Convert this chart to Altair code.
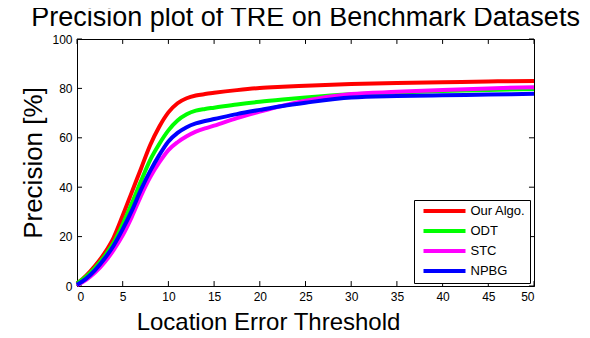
import altair as alt
import pandas as pd

thresholds = [0, 1, 2, 3, 4, 5, 6, 7, 8, 9, 10, 11, 12, 13, 14, 15, 17.5, 20, 22.5, 25, 30, 35, 40, 45, 50]
our_algo = [1.0, 4.2, 8.3, 13.2, 19.5, 28.5, 38.0, 47.5, 57.0, 64.5, 70.3, 74.0, 76.0, 77.1, 77.7, 78.2, 79.3, 80.2, 80.7, 81.1, 81.8, 82.2, 82.5, 82.8, 83.0]
odt = [1.0, 3.8, 7.5, 12.0, 17.5, 25.0, 33.5, 42.5, 51.0, 57.5, 63.0, 67.0, 69.5, 71.0, 71.7, 72.2, 73.5, 74.6, 75.5, 76.3, 77.6, 78.3, 78.9, 79.4, 79.8]
stc = [0.3, 2.5, 5.5, 9.5, 14.5, 20.5, 28.0, 36.5, 44.0, 50.0, 55.0, 58.2, 60.6, 62.5, 63.8, 64.9, 68.0, 70.6, 73.0, 75.0, 77.7, 78.6, 79.4, 80.0, 80.5]
npbg = [0.5, 3.0, 6.5, 11.0, 16.3, 23.0, 30.5, 39.0, 46.5, 53.0, 58.5, 62.0, 64.3, 65.8, 66.8, 67.6, 69.6, 71.3, 72.9, 74.2, 76.3, 76.9, 77.2, 77.5, 77.8]

series_names = ["Our Algo.", "ODT", "STC", "NPBG"]
series_colors = ["#FF0000", "#00FF00", "#FF00FF", "#0000FF"]
x_ticks = [0, 5, 10, 15, 20, 25, 30, 35, 40, 45, 50]
y_ticks = [0, 20, 40, 60, 80, 100]

FONT = "Liberation Sans"

rows = []
for name, vals in zip(series_names, [our_algo, odt, stc, npbg]):
    for t, v in zip(thresholds, vals):
        rows.append({"threshold": t, "precision": v, "series": name})
df = pd.DataFrame(rows)

# inside tick marks (MATLAB style box ticks)
xlen = 2.0   # tick length in y data units
ylen = 0.55  # tick length in x data units
tick_rows = []
for t in x_ticks:
    tick_rows.append({"x": t, "x2": t, "y": 0, "y2": xlen})
    tick_rows.append({"x": t, "x2": t, "y": 100 - xlen, "y2": 100})
for t in y_ticks:
    tick_rows.append({"x": 0, "x2": ylen, "y": t, "y2": t})
    tick_rows.append({"x": 50 - ylen, "x2": 50, "y": t, "y2": t})
ticks_df = pd.DataFrame(tick_rows)

xscale = alt.Scale(domain=[0, 50], nice=False, zero=False)
yscale = alt.Scale(domain=[0, 100], nice=False)

lines = alt.Chart(df).mark_line(strokeWidth=4, interpolate="monotone").encode(
    x=alt.X("threshold:Q", scale=xscale,
            axis=alt.Axis(values=x_ticks, title="Location Error Threshold",
                          labelPadding=5, titlePadding=8, titleX=191,
                          titleAlign="center")),
    y=alt.Y("precision:Q", scale=yscale,
            axis=alt.Axis(values=y_ticks, title="Precision [%]",
                          labelPadding=5, titlePadding=5, titleFontSize=26)),
    color=alt.Color("series:N", sort=series_names,
                    scale=alt.Scale(domain=series_names, range=series_colors),
                    legend=alt.Legend(orient="none", legendX=337, legendY=161,
                                      title=None, symbolType="stroke",
                                      symbolSize=1764, symbolStrokeWidth=4,
                                      labelFont=FONT, labelFontSize=13,
                                      labelColor="black", labelOffset=3,
                                      strokeColor="black", fillColor="white",
                                      padding=4.5, symbolOffset=3, rowPadding=6,
                                      clipHeight=13)),
    order=alt.Order("threshold:Q"),
)

tick_marks = alt.Chart(ticks_df).mark_rule(color="black", strokeWidth=1).encode(
    x="x:Q", x2="x2:Q", y="y:Q", y2="y2:Q"
)

chart = alt.layer(tick_marks, lines).properties(
    width=457, height=247,
    background="white",
    autosize=alt.AutoSizeParams(type="none"),
    padding={"left": 69, "top": 31, "right": 48, "bottom": 44},
    title=alt.TitleParams("Precision plot of TRE on Benchmark Datasets",
                          font=FONT, fontSize=27, fontWeight="normal",
                          color="black", anchor="middle", offset=1),
).configure_view(
    stroke="black", strokeWidth=1
).configure_axis(
    labelFont=FONT, labelFontSize=12, labelColor="black",
    titleFont=FONT, titleFontSize=24, titleFontWeight="normal", titleColor="black",
    domainColor="black", tickSize=0, grid=False
)

chart.save("out.html", embed_options={"renderer": "svg", "actions": False})
